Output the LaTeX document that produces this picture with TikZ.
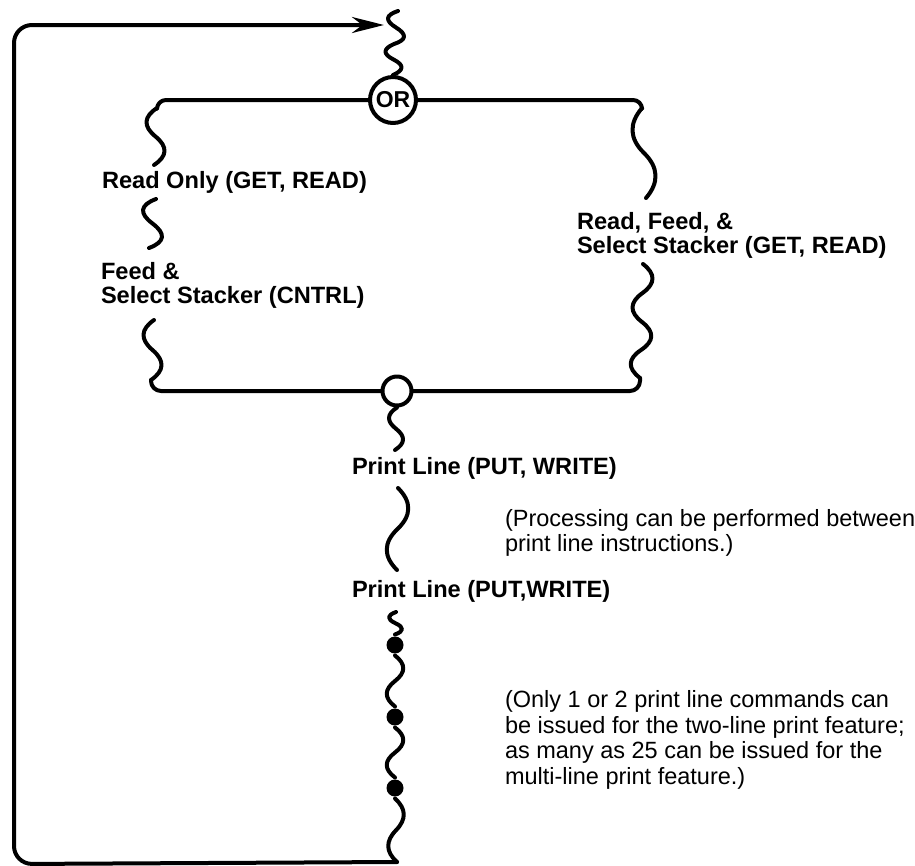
\documentclass[tikz,border=0pt]{standalone}
\usepackage{fontspec}
\setmainfont{Liberation Sans}
\usetikzlibrary{calc,arrows.meta}
\begin{document}
\begin{tikzpicture}[x=1pt,y=-1pt,
  line width=4pt, line cap=round, line join=round,
  sq/.style={to path={.. controls ($(\tikztostart)!0.1667!(\tikztotarget)!#1!90:(\tikztotarget)$) and ($(\tikztostart)!0.3333!(\tikztotarget)!#1!90:(\tikztotarget)$) .. ($(\tikztostart)!0.5!(\tikztotarget)$) .. controls ($(\tikztostart)!0.6667!(\tikztotarget)!#1!-90:(\tikztotarget)$) and ($(\tikztostart)!0.8333!(\tikztotarget)!#1!-90:(\tikztotarget)$) .. (\tikztotarget) \tikztonodes}},
  lbl/.style={anchor=west, inner sep=0pt, align=left, font=\bfseries\fontsize{23.6}{24}\selectfont},
  note/.style={anchor=west, inner sep=0pt, align=left, font=\fontsize{23.5}{25.5}\selectfont},
  ring/.style={circle, draw, line width=4pt, inner sep=0pt},
  dot/.style={circle, fill, inner sep=0pt, minimum size=17pt}
]
\useasboundingbox (0,0) rectangle (915,865);

% nodes
\node[ring, minimum size=46pt, font=\bfseries\fontsize{23}{23}\selectfont] (or) at (393,100) {OR};
\node[ring, minimum size=29pt] (pc) at (397,391) {};
\node[dot] (d1) at (395,645) {};
\node[dot] (d2) at (395,717) {};
\node[dot] (d3) at (395,788) {};

\node[lbl] (ro) at (100,182) {Read Only (GET, READ)};
\node[lbl] (fs) at (99,285) {Feed \&\\Select Stacker (CNTRL)};
\node[lbl] (rf) at (575,235) {Read, Feed, \&\\Select Stacker (GET, READ)};
\node[lbl] (pl1) at (350,468) {Print Line (PUT, WRITE)};
\node[lbl] (pl2) at (350,591) {Print Line (PUT,WRITE)};
\node[note] (n1) at (503,533) {(Processing can be performed between\\print line instructions.)};
\node[note] (n2) at (503,740) {(Only 1 or 2 print line commands can\\be issued for the two-line print feature;\\as many as 25 can be issued for the\\multi-line print feature.)};

% coordinates
\coordinate (t0) at (398,11);
\coordinate (t1) at (394,44);
\coordinate (lc) at (157,100);
\coordinate (lb0) at (157,108);
\coordinate (lb1) at (154,165);
\coordinate (lb2) at (156,199);
\coordinate (lb3) at (149,248);
\coordinate (lb4) at (154,320);
\coordinate (lb5) at (151,380);
\coordinate (lbc) at (151,391);
\coordinate (rc) at (642,100);
\coordinate (rb0) at (642,108);
\coordinate (rb1) at (646,198);
\coordinate (rb2) at (643,264);
\coordinate (rb3) at (642,322);
\coordinate (rb4) at (640,378);
\coordinate (rbc) at (640,391);
\coordinate (pb1) at (395,450);
\coordinate (pb2) at (398,488);
\coordinate (pb3) at (397,570);
\coordinate (pb4) at (396,612);
\coordinate (pb5) at (397,862);
\coordinate (bl) at (14,864);
\coordinate (tl) at (14,25);
\coordinate (tip) at (384,25);

% connectors
\draw (t0) to[sq=-12pt] (t1) to[sq=-11pt] (or.north);
\draw[rounded corners=9pt] (or.west) -- (lc) -- (lb0);
\draw (lb0) to[sq=-13pt] (lb1);
\draw (lb2) to[sq=-15pt] (lb3);
\draw (lb4) to[sq=-13pt] (lb5);
\draw[rounded corners=10pt] (lb5) -- (lbc) -- (pc.west);
\draw[rounded corners=9pt] (or.east) -- (rc) -- (rb0);
\draw (rb0) to[sq=-14pt] (rb1);
\draw (rb2) to[sq=13pt] (rb3) to[sq=13pt] (rb4);
\draw[rounded corners=10pt] (rb4) -- (rbc) -- (pc.east);
\draw (pc.south) to[sq=-10pt] (pb1);
\draw (pb2) to[sq=14pt] (pb3);
\draw (pb4) to[sq=-9pt] (d1.north);
\draw (d1.south) to[sq=11pt] (d2.north);
\draw (d2.south) to[sq=11pt] (d3.north);
\draw (d3.south) to[sq=11pt] (pb5);
\draw[rounded corners=18pt, -{Stealth[length=32pt,width=16pt]}] (pb5) -- (bl) -- (tl) -- (tip);
\end{tikzpicture}
\end{document}
